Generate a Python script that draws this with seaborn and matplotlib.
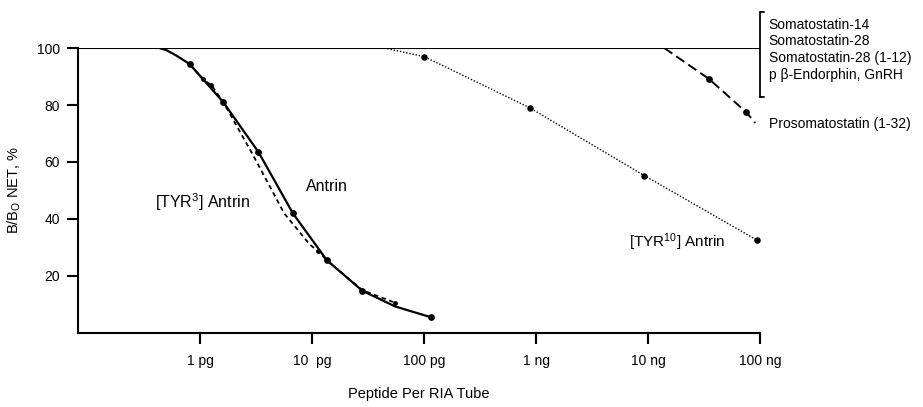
import pandas as pd
import matplotlib
matplotlib.use("Agg")
import matplotlib.pyplot as plt
import seaborn as sns

# doses in pg per RIA tube, binding as B/Bo NET %
antrin_x = [0.43, 0.5, 0.6, 0.8, 1.6, 3.3, 6.7, 13.5, 28, 55, 115]
antrin_y = [100, 99.2, 97.5, 94.4, 81, 63.5, 42, 25.5, 14.8, 9.3, 5.5]
antrin_dot_x = [0.8, 1.6, 3.3, 6.7, 13.5, 28, 115]
antrin_dot_y = [94.4, 81, 63.5, 42, 25.5, 14.8, 5.5]

tyr3_x = [0.8, 1.05, 1.25, 1.6, 2.9, 5.6, 9.5, 11.2, 13.5, 28, 55]
tyr3_y = [94.4, 89, 87, 81, 63, 42, 31, 28.8, 25.5, 15, 10.6]
tyr3_dot_x = [1.05, 1.25, 11.2, 55]
tyr3_dot_y = [89, 87, 28.8, 10.6]

tyr10_x = [44, 100, 880, 9300, 95000]
tyr10_y = [100, 97, 79, 55.2, 32.5]
tyr10_dot_x = [100, 880, 9300, 95000]
tyr10_dot_y = [97, 79, 55.2, 32.5]

prosom_x = [14000, 35000, 76000, 91000]
prosom_y = [100, 89.2, 77.4, 73.7]
prosom_dot_x = [35000, 76000]
prosom_dot_y = [89.2, 77.4]

# peptides with no cross reaction stay at 100 %
flat_x = [0.08, 100000]
flat_y = [100, 100]

x_ticks = [1, 10, 100, 1000, 10000, 100000]
x_tick_labels = ["1 pg", "10  pg", "100 pg", "1 ng", "10 ng", "100 ng"]
y_ticks = [20, 40, 60, 80, 100]
nonreactive = ["Somatostatin-14", "Somatostatin-28",
               "Somatostatin-28 (1-12)", "p \u03b2-Endorphin, GnRH"]

sns.set_style("ticks")
plt.rcParams["font.family"] = ["Liberation Sans", "DejaVu Sans"]
plt.rcParams["mathtext.fontset"] = "custom"
plt.rcParams["mathtext.rm"] = "Liberation Sans"
plt.rcParams["mathtext.it"] = "Liberation Sans"
for key in ["text.color", "axes.labelcolor", "xtick.color", "ytick.color"]:
    plt.rcParams[key] = "black"

fig = plt.figure(figsize=(9.23, 4.07), dpi=100)
ax = fig.add_axes([0.0842, 0.182, 0.739, 0.700])

def curve(x, y, ls, lw):
    df = pd.DataFrame({"dose": x, "bb0": y})
    sns.lineplot(data=df, x="dose", y="bb0", ax=ax, sort=False, estimator=None,
                 color="black", linestyle=ls, linewidth=lw)

def dots(x, y, size):
    df = pd.DataFrame({"dose": x, "bb0": y})
    sns.scatterplot(data=df, x="dose", y="bb0", ax=ax, color="black",
                    s=size, edgecolor="black", linewidth=0, zorder=5)

curve(flat_x, flat_y, "-", 1.5)
curve(antrin_x, antrin_y, "-", 1.6)
curve(tyr3_x, tyr3_y, (0, (2.5, 2)), 1.3)
curve(tyr10_x, tyr10_y, (0, (1, 1.3)), 1.0)
curve(prosom_x, prosom_y, (0, (5, 2.5)), 1.4)
dots(antrin_dot_x, antrin_dot_y, 24)
dots(tyr3_dot_x, tyr3_dot_y, 12)
dots(tyr10_dot_x, tyr10_dot_y, 22)
dots(prosom_dot_x, prosom_dot_y, 24)

ax.set_xscale("log")
ax.set_xlim(0.08, 100000)
ax.set_ylim(0, 100)
ax.set_xticks(x_ticks)
ax.set_xticklabels(x_tick_labels)
ax.minorticks_off()
ax.set_yticks(y_ticks)
ax.tick_params(axis="both", length=8, width=1.5, labelsize=10, color="black")
ax.tick_params(axis="x", pad=7)
ax.tick_params(axis="y", pad=5)
for side in ["top", "right"]:
    ax.spines[side].set_visible(False)
for side in ["left", "bottom"]:
    ax.spines[side].set_linewidth(1.5)
    ax.spines[side].set_color("black")

ax.set_xlabel("Peptide Per RIA Tube", fontsize=10.5, labelpad=14)
ax.set_ylabel("B/B$_\\mathrm{O}$ NET, %", fontsize=10.5, labelpad=10)

# bracket grouping the peptides that do not cross react
bx = flat_x[-1]
ax.plot([bx, bx], [82.9, 112.6], color="black", lw=1.3, clip_on=False)
ax.plot([bx, bx * 1.08], [112.6, 112.6], color="black", lw=1.3, clip_on=False)
ax.plot([bx, bx * 1.08], [82.9, 82.9], color="black", lw=1.3, clip_on=False)
for i, name in enumerate(nonreactive):
    ax.text(bx * 1.2, 108.2 - i * 5.85, name, fontsize=10, va="center",
            ha="left", clip_on=False)
ax.text(bx * 1.2, 73.2, "Prosomatostatin (1-32)", fontsize=10, va="center",
        ha="left", clip_on=False)

ax.text(0.39, 46, "[TYR$^3$] Antrin", fontsize=11.5, va="center", ha="left")
ax.text(8.8, 51.5, "Antrin", fontsize=11.5, va="center", ha="left")
ax.text(6800, 31.8, "[TYR$^{10}$] Antrin", fontsize=11, va="center", ha="left")

fig.savefig("out.png", dpi=100)
plt.close(fig)
